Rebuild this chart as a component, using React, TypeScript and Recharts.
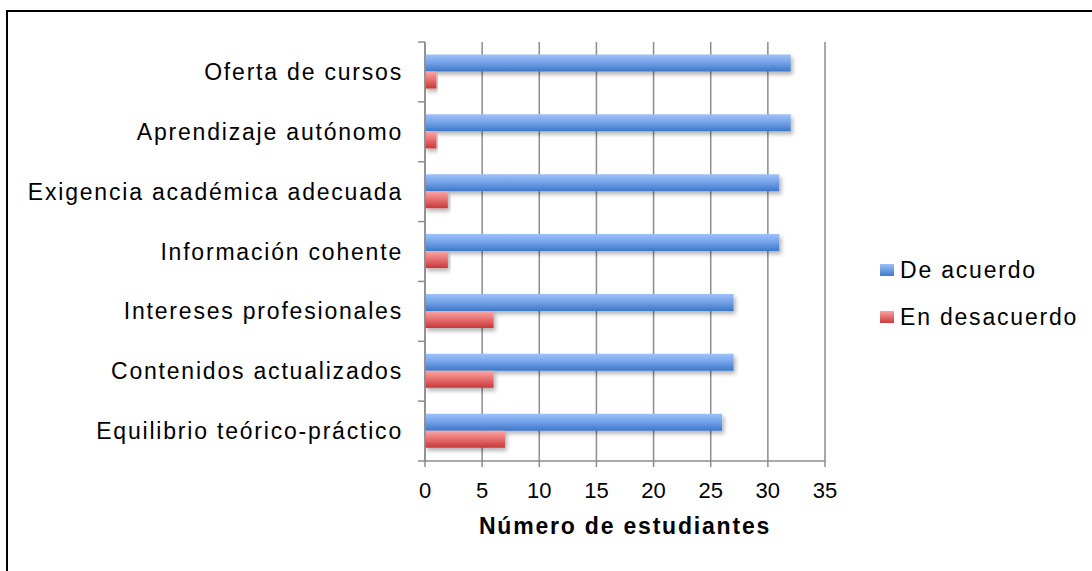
import React from "react";
import { BarChart, Bar, XAxis, YAxis, CartesianGrid } from "recharts";

const categories = [
  "Oferta de cursos",
  "Aprendizaje autónomo",
  "Exigencia académica adecuada",
  "Información cohente",
  "Intereses profesionales",
  "Contenidos actualizados",
  "Equilibrio teórico-práctico",
];
const deAcuerdo = [32, 32, 31, 31, 27, 27, 26];
const enDesacuerdo = [1, 1, 2, 2, 6, 6, 7];
const xTicks = [0, 5, 10, 15, 20, 25, 30, 35];
const seriesNames = ["De acuerdo", "En desacuerdo"];

const W = 1092;
const H = 571;
const PLOT_TOP = 42;
const PLOT_BOTTOM = 461;
const PLOT_LEFT = 425;
const PLOT_RIGHT = 825;
const BAND = (PLOT_BOTTOM - PLOT_TOP) / categories.length;
const FONT = "'Liberation Sans', Arial, sans-serif";
const GRID = "#8c8c8c";
const SPACING = 1.8;

const data = categories.map((name, i) => ({
  name,
  acuerdo: deAcuerdo[i],
  desacuerdo: enDesacuerdo[i],
}));

function CategoryTick(props: any) {
  const { x, y, payload, index } = props;
  const ax = x + 22;
  return (
    <g>
      <text
        x={x}
        y={y}
        textAnchor="end"
        dominantBaseline="central"
        fontSize={23}
        letterSpacing={SPACING}
        fontFamily={FONT}
        fill="#000"
      >
        {payload.value}
      </text>
      <line x1={ax - 7} x2={ax} y1={y - BAND / 2} y2={y - BAND / 2} stroke={GRID} strokeWidth={1.5} />
      {index === categories.length - 1 && (
        <line x1={ax - 7} x2={ax} y1={y + BAND / 2} y2={y + BAND / 2} stroke={GRID} strokeWidth={1.5} />
      )}
    </g>
  );
}

const swatches = [
  "linear-gradient(#9cc0f7, #3f7bcb)",
  "linear-gradient(#f9a3a3, #c93b3b)",
];

export default function App() {
  return (
    <div style={{ position: "fixed", left: 0, top: 0, width: W, height: H, background: "#fff", overflow: "hidden" }}>
      <div
        style={{
          position: "absolute",
          left: 6,
          top: 10,
          width: 2000,
          height: 2000,
          border: "2px solid #000",
        }}
      />
      <div style={{ position: "absolute", left: 0, top: 0 }}>
        <BarChart
          width={W}
          height={H}
          data={data}
          layout="vertical"
          margin={{ top: PLOT_TOP, right: W - PLOT_RIGHT, bottom: 0, left: 0 }}
          barGap={0}
          barCategoryGap={12.5}
        >
          <defs>
            <linearGradient id="gBlue" x1="0" y1="0" x2="0" y2="1">
              <stop offset="0%" stopColor="#9ec2f9" />
              <stop offset="45%" stopColor="#77a4ea" />
              <stop offset="100%" stopColor="#3c78c8" />
            </linearGradient>
            <linearGradient id="gRed" x1="0" y1="0" x2="0" y2="1">
              <stop offset="0%" stopColor="#fba6a6" />
              <stop offset="45%" stopColor="#ea7474" />
              <stop offset="100%" stopColor="#c63838" />
            </linearGradient>
            <filter id="shadow" x="-5%" y="-20%" width="115%" height="160%">
              <feDropShadow dx="2" dy="3" stdDeviation="2" floodColor="#000" floodOpacity="0.3" />
            </filter>
          </defs>
          <CartesianGrid horizontal={false} stroke={GRID} strokeWidth={1.5} />
          <XAxis
            type="number"
            domain={[0, 35]}
            ticks={xTicks}
            height={H - PLOT_BOTTOM}
            axisLine={{ stroke: GRID, strokeWidth: 1.5 }}
            tickLine={{ stroke: GRID, strokeWidth: 1.5 }}
            tickSize={6}
            tickMargin={15}
            tick={{ fontSize: 22, fontFamily: FONT, fill: "#000" }}
            label={{
              value: "Número de estudiantes",
              position: "insideBottom",
              offset: 37,
              style: { fontSize: 23, fontWeight: "bold", letterSpacing: SPACING, fontFamily: FONT, fill: "#000" },
            }}
          />
          <YAxis
            type="category"
            dataKey="name"
            width={PLOT_LEFT}
            axisLine={{ stroke: GRID, strokeWidth: 1.5 }}
            tickLine={false}
            tickSize={0}
            tickMargin={22}
            tick={<CategoryTick />}
            interval={0}
          />
          <Bar
            dataKey="acuerdo"
            name={seriesNames[0]}
            fill="url(#gBlue)"
            filter="url(#shadow)"
            isAnimationActive={false}
          />
          <Bar
            dataKey="desacuerdo"
            name={seriesNames[1]}
            fill="url(#gRed)"
            filter="url(#shadow)"
            isAnimationActive={false}
          />
        </BarChart>
      </div>
      <div
        style={{
          position: "absolute",
          left: 880,
          top: 256,
          fontFamily: FONT,
          fontSize: 23,
          letterSpacing: SPACING,
          color: "#000",
        }}
      >
        {seriesNames.map((n, i) => (
          <div key={n} style={{ display: "flex", alignItems: "center", height: 28, marginBottom: 19 }}>
            <span style={{ width: 14, height: 12, marginRight: 6, background: swatches[i] }} />
            <span>{n}</span>
          </div>
        ))}
      </div>
    </div>
  );
}
